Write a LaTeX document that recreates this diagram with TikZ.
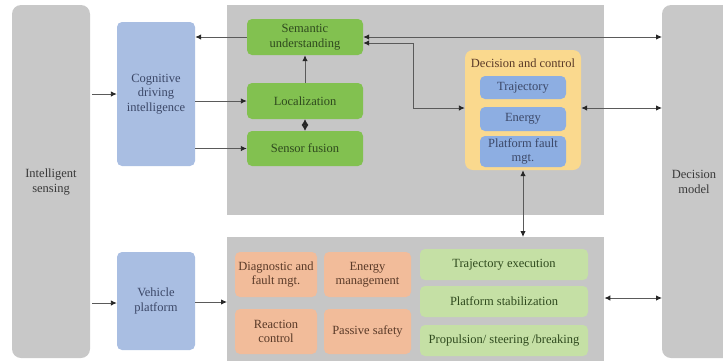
\documentclass[tikz,border=0pt]{standalone}
\usepackage{fontspec}
\setmainfont{Liberation Serif}
\usetikzlibrary{arrows.meta}
\definecolor{areagray}{HTML}{C6C6C6}
\definecolor{colgray}{HTML}{C8C8C8}
\definecolor{cogblue}{HTML}{A9BEE2}
\definecolor{inblue}{HTML}{8DAEE2}
\definecolor{dgreen}{HTML}{82C150}
\definecolor{lgreen}{HTML}{C5E0A5}
\definecolor{orng}{HTML}{F2BC9A}
\definecolor{yell}{HTML}{FAD98E}
\definecolor{txtgray}{HTML}{3A3A3A}
\definecolor{txtblue}{HTML}{3C4868}
\definecolor{txtbrown}{HTML}{5A3A28}
\definecolor{txtgreen}{HTML}{2F4A1E}
\definecolor{linegray}{HTML}{5A5A5A}
\tikzset{
  txt/.style={font=\fontsize{12.5}{14.5}\selectfont},
  box/.style={draw=none, rounded corners=5pt, align=center, inner sep=1pt, txt},
  area/.style={fill=areagray, draw=none},
  col/.style={fill=colgray, draw=none, rounded corners=9pt},
  tip/.style={Latex[length=6pt,width=5.5pt,color=black!85]},
  conn/.style={draw=linegray, line width=0.9pt, -{Latex[length=6pt,width=5.5pt,color=black!85]}},
  bconn/.style={draw=linegray, line width=0.9pt, {Latex[length=6pt,width=5.5pt,color=black!85]}-{Latex[length=6pt,width=5.5pt,color=black!85]}},
}
\begin{document}
\begin{tikzpicture}[x=1pt,y=-1pt]
\useasboundingbox (0,0) rectangle (723,360);
% columns and areas
\path[col] (12,5) rectangle (90,358);
\path[col] (662,5) rectangle (740,358);
\node[text=txtgray, align=center, txt] (sens) at (51,182) {Intelligent\\sensing};
\node[text=txtgray, align=center, txt] (dmod) at (694,182) {Decision\\model};
\coordinate (colR) at (662,0);
\node[area, minimum width=377pt, minimum height=210pt, anchor=north west] (top) at (227,5) {};
\node[area, minimum width=377pt, minimum height=125pt, anchor=north west] (bot) at (227,237) {};
% left blue boxes
\node[box, fill=cogblue, text=txtblue, minimum width=78pt, minimum height=144pt] (cog) at (156,94) {Cognitive\\driving\\intelligence};
\node[box, fill=cogblue, text=txtblue, minimum width=78pt, minimum height=98pt] (veh) at (156,301) {Vehicle\\platform};
% green boxes
\node[box, fill=dgreen, text=txtgreen, minimum width=116pt, minimum height=36pt] (sem) at (305,37) {Semantic\\understanding};
\node[box, fill=dgreen, text=txtgreen, minimum width=116pt, minimum height=36pt] (loc) at (305,101) {Localization};
\node[box, fill=dgreen, text=txtgreen, minimum width=116pt, minimum height=35pt] (fus) at (305,148.5) {Sensor fusion};
% decision and control
\node[box, fill=yell, minimum width=116pt, minimum height=120pt, rounded corners=8pt] (dec) at (523,110) {};
\node[text=txtbrown, txt] (dectitle) at (523,63.5) {Decision and control};
\node[box, fill=inblue, text=txtblue, minimum width=86pt, minimum height=23pt] (traj) at (523,87.5) {Trajectory};
\node[box, fill=inblue, text=txtblue, minimum width=86pt, minimum height=24pt] (ener) at (523,119) {Energy};
\node[box, fill=inblue, text=txtblue, minimum width=86pt, minimum height=31pt] (pfm) at (523,151.5) {Platform fault\\mgt.};
% bottom orange boxes
\node[box, fill=orng, text=txtbrown, minimum width=82pt, minimum height=45pt] (diag) at (276,274.5) {Diagnostic and\\fault mgt.};
\node[box, fill=orng, text=txtbrown, minimum width=87pt, minimum height=45pt] (emgt) at (367.5,274.5) {Energy\\management};
\node[box, fill=orng, text=txtbrown, minimum width=82pt, minimum height=45pt] (reac) at (276,331.5) {Reaction\\control};
\node[box, fill=orng, text=txtbrown, minimum width=87pt, minimum height=45pt] (pass) at (367.5,331.5) {Passive safety};
% bottom green boxes
\node[box, fill=lgreen, text=txtgreen, minimum width=168pt, minimum height=31pt] (texe) at (504,264.5) {Trajectory execution};
\node[box, fill=lgreen, text=txtgreen, minimum width=168pt, minimum height=31pt] (pstab) at (504,301.5) {Platform stabilization};
\node[box, fill=lgreen, text=txtgreen, minimum width=168pt, minimum height=31pt] (prop) at (504,340.5) {Propulsion/ steering /breaking};
% connectors
\draw[conn] (92,94) -- (cog.west |- 0,94);
\draw[conn] (92,303) -- (veh.west |- 0,303);
\draw[conn] (sem.west) -- (cog.east |- sem.west);
\draw[conn] (cog.east |- loc.west) -- (loc.west);
\draw[conn] (cog.east |- fus.west) -- (fus.west);
\draw[conn] (loc.north) -- (sem.south);
\draw[draw=linegray, line width=0.9pt, {Latex[length=6pt,width=7pt,color=black!85]}-{Latex[length=6pt,width=7pt,color=black!85]}] (loc.south) -- (fus.north);
\draw[bconn] (sem.east |- 0,37) -- (colR |- 0,37);
\draw[bconn] (sem.east |- 0,43) -- (413,43) -- (413,108) -- (dec.west |- 0,108);
\draw[bconn] (dec.east |- 0,108) -- (colR |- 0,108);
\draw[bconn] (dec.south) -- (bot.north -| dec.south);
\draw[conn] (veh.east |- 0,302) -- (bot.west |- 0,302);
\draw[bconn] (bot.east |- 0,298) -- (colR |- 0,298);
\end{tikzpicture}
\end{document}
